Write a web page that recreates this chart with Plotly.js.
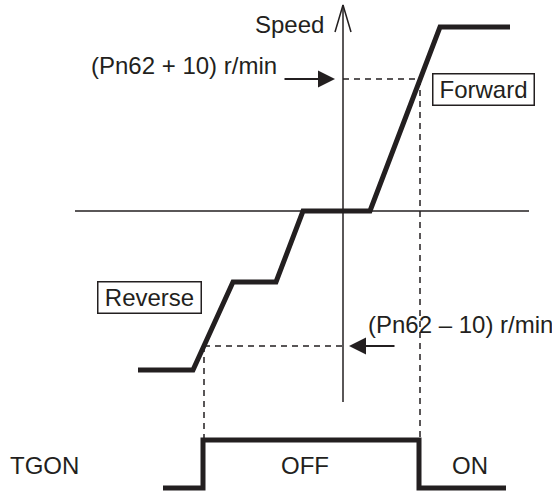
<!DOCTYPE html>
<html>
<head>
<meta charset="utf-8">
<script src="https://cdn.plot.ly/plotly-3.0.1.min.js"></script>
<style>
  html, body { margin: 0; padding: 0; background: #fff; }
  #chart { width: 552px; height: 493px; }
</style>
</head>
<body>
<div id="chart"></div>
<script>
// motor speed profile (time units, speed units; 0 = zero speed line)
var speedT = [138, 193, 233, 276, 303, 370, 440, 510];
var speedV = [-159, -159, -71, -71, 0, 0, 184, 184];

// TGON output (0 = low, 1 = high)
var tgonT = [163, 203, 203, 419, 419, 506];
var tgonV = [0, 0, 1, 1, 0, 0];

// detection levels and the times the speed crosses them
var fwdLevel = 132;   // (Pn62 + 10) r/min
var revLevel = -135;  // (Pn62 - 10) r/min
var fwdCross = 420;
var revCross = 204;

// axes of the sketch
var axisT = 343;
var axisTop = 206;
var axisBottom = -191;
var zeroLine = [75, 529];

var ink = '#231f20';
var fnt = {family: '"Liberation Sans", Arial, Helvetica, sans-serif', size: 24, color: ink};

var traces = [
    // zero speed line
    {x: zeroLine, y: [0, 0], mode: 'lines', line: {color: ink, width: 1.5}},
    // vertical speed axis
    {x: [axisT, axisT], y: [axisBottom, axisTop], mode: 'lines', line: {color: ink, width: 1.5}},
    // open arrow head on speed axis
    {x: [axisT - 8, axisT, axisT + 8], y: [axisTop - 27, axisTop, axisTop - 27], mode: 'lines', line: {color: ink, width: 1.5}},
    // dashed guide lines
    {x: [axisT, fwdCross], y: [fwdLevel, fwdLevel], mode: 'lines', line: {color: ink, width: 1.5, dash: '6px,5px'}},
    {x: [revCross, axisT], y: [revLevel, revLevel], mode: 'lines', line: {color: ink, width: 1.5, dash: '6px,5px'}},
    {x: [fwdCross, fwdCross], y: [fwdLevel, -229], mode: 'lines', line: {color: ink, width: 1.5, dash: '6px,5px'}},
    {x: [revCross, revCross], y: [revLevel, -229], mode: 'lines', line: {color: ink, width: 1.5, dash: '6px,5px'}},
    // speed curve
    {x: speedT, y: speedV, mode: 'lines', line: {color: ink, width: 5}},
    // TGON signal
    {x: tgonT, y: tgonV, yaxis: 'y2', mode: 'lines', line: {color: ink, width: 5}}
];

var layout = {
    width: 552,
    height: 493,
    margin: {l: 0, r: 0, t: 0, b: 0},
    paper_bgcolor: '#fff',
    plot_bgcolor: '#fff',
    showlegend: false,
    xaxis: {range: [0, 552], visible: false, fixedrange: true},
    yaxis: {range: [-282, 211], visible: false, fixedrange: true},
    yaxis2: {range: [-5 / 48, 488 / 48], overlaying: 'y', visible: false, fixedrange: true},
    annotations: [
        {x: 289, y: 187, text: 'Speed', showarrow: false, font: fnt},
        {x: 184, y: 146, text: '(Pn62 + 10) r/min', showarrow: false, font: fnt},
        {x: 366, y: -113, xanchor: 'left', text: '(Pn62 \u2013 10) r/min', showarrow: false, font: fnt},
        {x: 483, y: 122, text: 'Forward', showarrow: false, font: fnt,
         bordercolor: ink, borderwidth: 1.5, borderpad: 0, width: 100, height: 30},
        {x: 149, y: -86.5, text: 'Reverse', showarrow: false, font: fnt,
         bordercolor: ink, borderwidth: 1.5, borderpad: 0, width: 102, height: 30},
        {x: 44, y: 0.46, yref: 'y2', text: 'TGON', showarrow: false, font: fnt},
        {x: 305, y: 0.46, yref: 'y2', text: 'OFF', showarrow: false, font: fnt},
        {x: 470, y: 0.46, yref: 'y2', text: 'ON', showarrow: false, font: fnt},
        // arrows pointing at the speed axis
        {x: 335, y: fwdLevel, ax: 283, ay: fwdLevel, axref: 'x', ayref: 'y', text: '',
         showarrow: true, arrowhead: 2, arrowsize: 1.7, arrowwidth: 2, arrowcolor: ink, standoff: 0},
        {x: 349, y: revLevel, ax: 396, ay: revLevel, axref: 'x', ayref: 'y', text: '',
         showarrow: true, arrowhead: 2, arrowsize: 1.7, arrowwidth: 2, arrowcolor: ink, standoff: 0}
    ]
};

Plotly.newPlot('chart', traces, layout, {staticPlot: true, displayModeBar: false});
</script>
</body>
</html>
